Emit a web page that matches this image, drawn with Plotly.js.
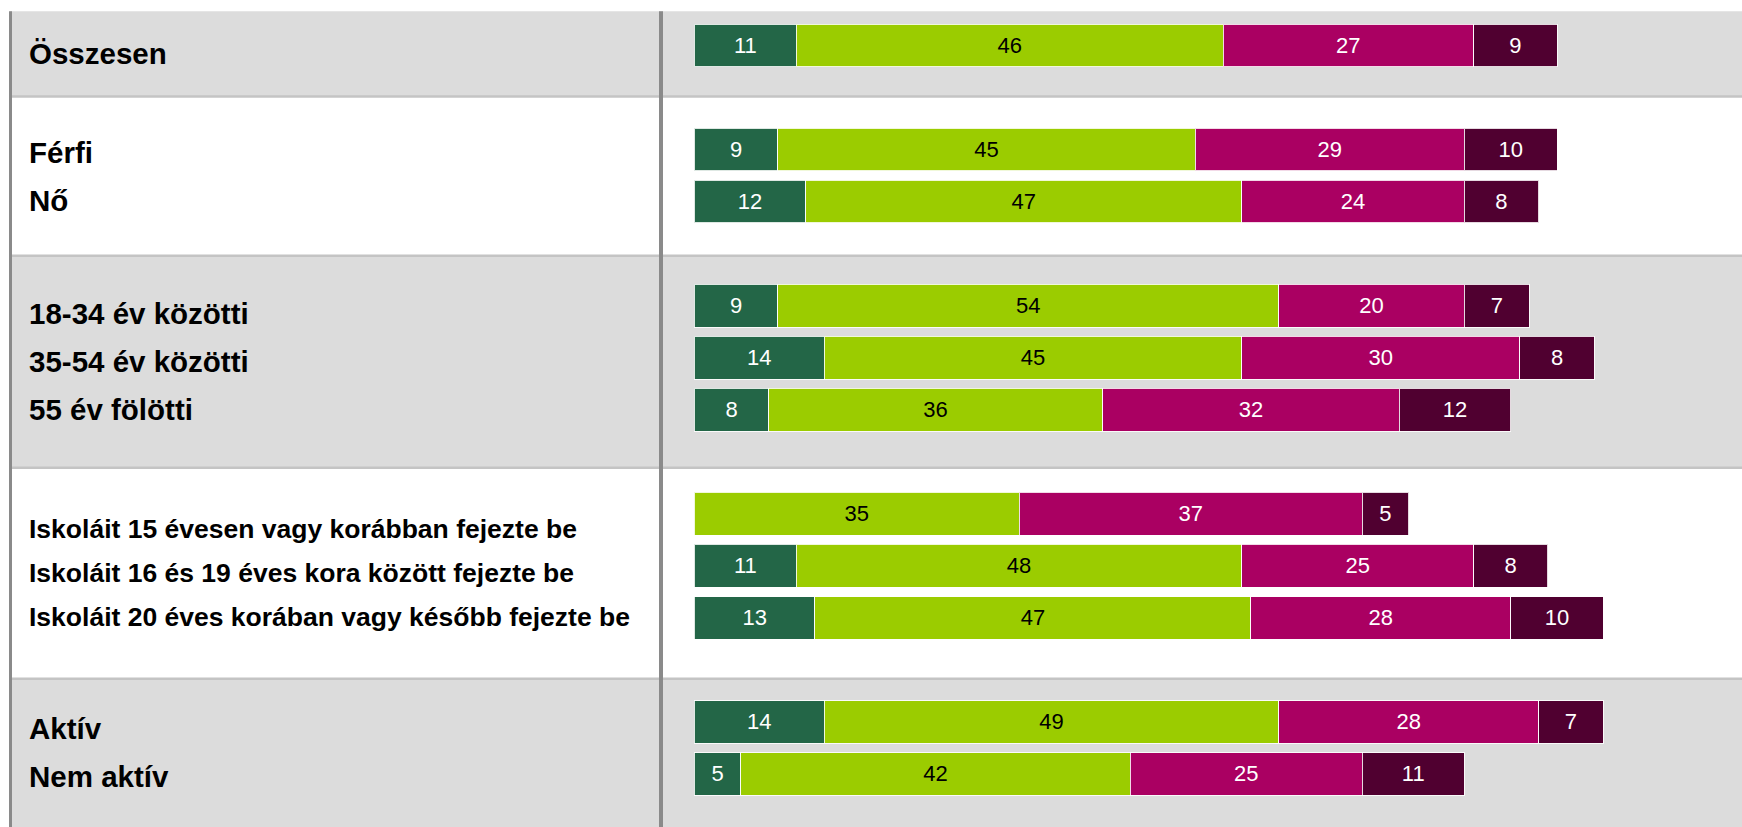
<!DOCTYPE html>
<html>
<head>
<meta charset="utf-8">
<script src="https://cdn.plot.ly/plotly-3.0.1.min.js"></script>
<style>
html,body{margin:0;padding:0;background:#fff;}
#chart{width:1742px;height:827px;}
</style>
</head>
<body>
<div id="chart"></div>
<script>
// ---- data ----
const categories = [
  "Összesen",
  "Férfi", "Nő",
  "18-34 év közötti", "35-54 év közötti", "55 év fölötti",
  "Iskoláit 15 évesen vagy korábban fejezte be",
  "Iskoláit 16 és 19 éves kora között fejezte be",
  "Iskoláit 20 éves korában vagy később fejezte be",
  "Aktív", "Nem aktív"
];
const groupOf = [0, 1, 1, 2, 2, 2, 3, 3, 3, 4, 4];
const series1 = [11, 9, 12, 9, 14, 8, null, 11, 13, 14, 5];
const series2 = [46, 45, 47, 54, 45, 36, 35, 48, 47, 49, 42];
const series3 = [27, 29, 24, 20, 30, 32, 37, 25, 28, 28, 25];
const series4 = [9, 10, 8, 7, 8, 12, 5, 8, 10, 7, 11];
const seriesNames = ["1. válasz", "2. válasz", "3. válasz", "4. válasz"];

// ---- styling ----
const colors = ["#236647", "#9bcc00", "#aa0062", "#500030"];
const textColors = ["#ffffff", "#000000", "#ffffff", "#ffffff"];
const W = 1742, H = 827;
const FONT = "Liberation Sans, Arial, Helvetica, sans-serif";

// slot positions: one empty slot between groups
const slots = categories.map((c, i) => i + groupOf[i]);
const nGroups = Math.max(...groupOf) + 1;

const allSeries = [series1, series2, series3, series4];
const traces = allSeries.map((vals, k) => ({
  type: "bar",
  orientation: "h",
  name: seriesNames[k],
  y: slots,
  x: vals,
  width: 0.82,
  text: vals.map(v => (v == null ? "" : String(v))),
  textposition: "inside",
  insidetextanchor: "middle",
  textangle: 0,
  textfont: {family: FONT, size: 22, color: textColors[k]},
  marker: {color: colors[k], line: {color: "rgba(255,255,255,0.85)", width: 1}},
  hoverinfo: "x+name",
  showlegend: false
}));

// group extents
const groupFirst = [], groupLast = [];
for (let g = 0; g < nGroups; g++) {
  const s = slots.filter((v, i) => groupOf[i] === g);
  groupFirst.push(Math.min(...s));
  groupLast.push(Math.max(...s));
}
const yRange = [15.02, -0.875];
const yTop = -0.66;
const edgeOffsets = [-0.02, 0.04, 0.115, 0.17]; // boundary shift after each group
const bandEdges = [];
for (let g = 0; g < nGroups; g++) {
  const top = g === 0 ? yTop : groupFirst[g] - 1 + edgeOffsets[g - 1];
  const bot = g === nGroups - 1 ? yRange[0] : groupLast[g] + 1 + edgeOffsets[g];
  bandEdges.push([top, bot]);
}

const shapes = [];
bandEdges.forEach((e, g) => {
  shapes.push({
    type: "rect", xref: "paper", yref: "y", layer: "below",
    x0: 10 / W, x1: 1, y0: e[0], y1: g === nGroups - 1 ? e[1] + 1 : e[1],
    fillcolor: g % 2 === 0 ? "#dcdcdc" : "#ffffff",
    line: {width: 0}
  });
  if (g > 0) {
    shapes.push({
      type: "line", xref: "paper", yref: "y", layer: "below",
      x0: 10 / W, x1: 1, y0: e[0], y1: e[0],
      line: {color: "#c4c4c4", width: 2.5}
    });
  }
});
[10.5 / W, 661 / W].forEach((xp, i) => {
  shapes.push({
    type: "line", xref: "paper", yref: "y", layer: "below",
    x0: xp, x1: xp, y0: yTop, y1: yRange[0] + 1,
    line: {color: "#8a8a8a", width: i === 0 ? 3 : 4}
  });
});

// labels, centred in each band
const pxPerSlot = H / (yRange[0] - yRange[1]);
const annotations = categories.map((c, i) => {
  const g = groupOf[i];
  const members = categories.filter((_, j) => groupOf[j] === g);
  const idx = members.indexOf(c);
  const isEdu = g === 3;
  const spacingPx = isEdu ? 44 : 48;
  const center = (bandEdges[g][0] + bandEdges[g][1]) / 2;
  const y = center + (idx - (members.length - 1) / 2) * spacingPx / pxPerSlot;
  return {
    xref: "paper", yref: "y", x: 27 / W, y: y,
    xanchor: "left", yanchor: "middle",
    text: "<b>" + c + "</b>", showarrow: false,
    font: {family: FONT, size: isEdu ? 26.5 : 29.5, color: "#000000"}
  };
});

const xScalePx = 9.276;
const x0px = 694.4;
const layout = {
  width: W, height: H,
  margin: {l: 0, r: 0, t: 0, b: 0, pad: 0},
  paper_bgcolor: "#ffffff",
  plot_bgcolor: "rgba(0,0,0,0)",
  barmode: "stack",
  bargap: 0,
  xaxis: {range: [-x0px / xScalePx, (W - x0px) / xScalePx], visible: false, fixedrange: true},
  yaxis: {range: yRange, visible: false, fixedrange: true},
  shapes: shapes,
  annotations: annotations,
  font: {family: FONT},
  showlegend: false
};

Plotly.newPlot("chart", traces, layout, {displayModeBar: false, staticPlot: true});
</script>
</body>
</html>
